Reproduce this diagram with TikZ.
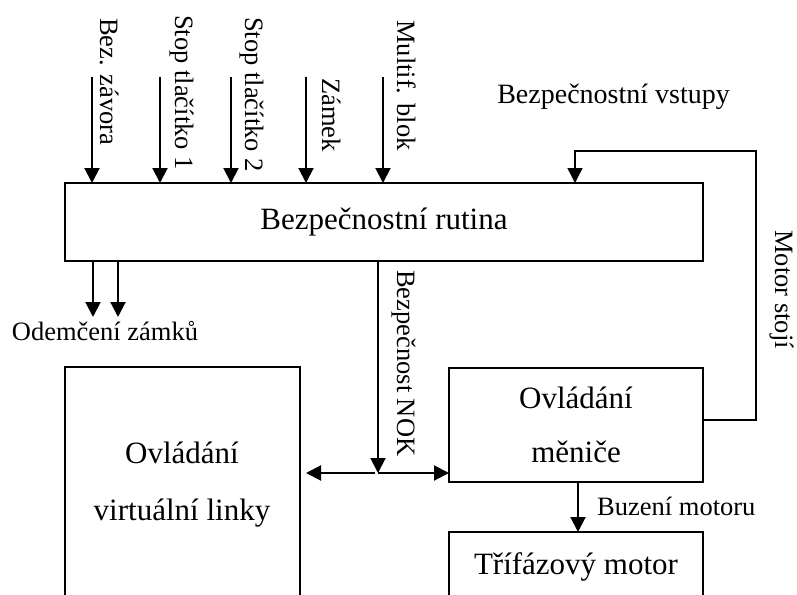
\documentclass[tikz,border=0pt]{standalone}
\usepackage{fontspec}
\setmainfont{Liberation Serif}
\usetikzlibrary{arrows.meta}
\begin{document}
\begin{tikzpicture}[x=1pt,y=-1pt,
  box/.style={draw, line width=1.5pt, inner sep=0pt, outer sep=0pt},
  big/.style={font=\fontsize{31}{36}\selectfont, inner sep=0pt},
  small/.style={font=\fontsize{26.5}{30}\selectfont, inner sep=0pt},
  lbl/.style={small, rotate=-90, anchor=base west},
  arr/.style={line width=2pt, -{Triangle[length=15pt,width=15pt]}},
  fbarr/.style={line width=1.5pt, -{Triangle[length=15pt,width=15pt]}}]
\useasboundingbox (0,0) rectangle (797,594);
\clip (0,0) rectangle (797,594);
\fill[white] (0,0) rectangle (797,594);

% boxes
\node[box, big, minimum width=638pt, minimum height=78pt] (rut) at (384,222) {Bezpečnostní rutina};
\node[box, minimum width=235pt, minimum height=260pt, anchor=north west] (vl) at (65,367) {};
\node[big, anchor=base] (vlA) at (182,463) {Ovládání};
\node[big, anchor=base] (vlB) at (182,520) {virtuální linky};
\node[box, minimum width=254pt, minimum height=114pt] (men) at (576,425) {};
\node[big, anchor=base] (menA) at (576,408) {Ovládání};
\node[big, anchor=base] (menB) at (576,462) {měniče};
\node[box, minimum width=254pt, minimum height=120pt, anchor=north] (mot) at (576,532) {};
\node[big, anchor=base] (motT) at (576,574) {Třífázový motor};

% input arrows
\coordinate (in1) at (92,77);
\coordinate (in2) at (160,77);
\coordinate (in3) at (231,77);
\coordinate (in4) at (306,77);
\coordinate (in5) at (383,77);
\draw[arr] (in1) -- (in1 |- rut.north);
\draw[arr] (in2) -- (in2 |- rut.north);
\draw[arr] (in3) -- (in3 |- rut.north);
\draw[arr] (in4) -- (in4 |- rut.north);
\draw[arr] (in5) -- (in5 |- rut.north);
\node[lbl] (l1) at (100,18) {Bez. závora};
\node[lbl] (l2) at (175,15) {Stop tlačítko 1};
\node[lbl] (l3) at (245,17) {Stop tlačítko 2};
\node[lbl] (l4) at (322,78) {Zámek};
\node[lbl] (l5) at (397,20) {Multif. blok};

\node[font=\fontsize{28}{32}\selectfont, inner sep=0pt, anchor=base east] (bv) at (730,103) {Bezpečnostní vstupy};

% feedback
\coordinate (fb1) at (756,420);
\coordinate (fb2) at (756,151);
\coordinate (fb3) at (575,151);
\draw[fbarr] (men.east |- fb1) -- (fb1) -- (fb2) -- (fb3) -- (fb3 |- rut.north);
\node[lbl] (ms) at (775,230) {Motor stojí};

% unlock outputs
\coordinate (o1) at (93,317);
\coordinate (o2) at (118,317);
\draw[arr] (rut.south -| o1) -- (o1);
\draw[arr] (rut.south -| o2) -- (o2);
\node[small, anchor=base] (odl) at (105,340) {Odemčení zámků};

% safety NOK
\coordinate (j) at (378,473);
\draw[arr] (rut.south -| j) -- (j);
\draw[arr] ([xshift=-3pt]j) -- ([xshift=6pt]vl.east |- j);
\draw[arr] (j) -- (men.west |- j);
\node[lbl] (nok) at (397,270) {Bezpečnost NOK};

% motor excitation
\coordinate (bz) at (578,0);
\draw[arr] (men.south -| bz) -- (mot.north -| bz);
\node[small, anchor=base west] (bzl) at (597,515) {Buzení motoru};
\end{tikzpicture}
\end{document}
